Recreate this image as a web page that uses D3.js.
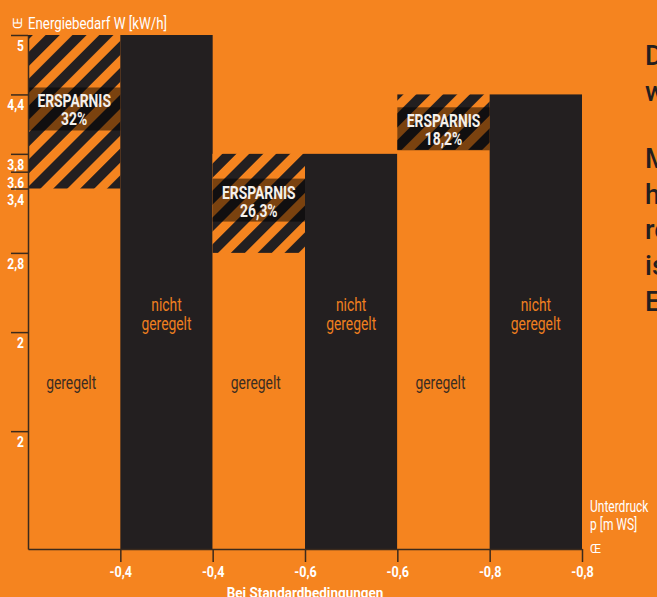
<!DOCTYPE html>
<html lang="de">
<head>
<meta charset="UTF-8">
<title>Energiebedarf</title>
<script src="https://d3js.org/d3.v7.min.js"></script>
<style>
  body { margin: 0; background: #f5841f; }
  svg { display: block; }
  text { font-family: Roboto, "Liberation Sans", sans-serif; }
</style>
</head>
<body>
<svg id="chart" width="657" height="597"></svg>
<script>
// Werte
var pressure = ["-0,4", "-0,6", "-0,8"];
var ungeregelt = [5, 3.8, 4.4];        // nicht geregelt
var geregelt = [3.45, 2.8, 3.84];      // geregelt (unteres Ende der Schraffur)
var ersparnis = ["32%", "26,3%", "18,2%"];
var labelTop = [4.47, 3.55, 4.27];     // Oberkante des Ersparnis-Kastens
var yTickValues = [5, 4.4, 3.8, 3.62, 3.45, 2.8, 2, 1];
var yTickLabels = ["5", "4,4", "3,8", "3,6", "3,4", "2,8", "2", "2"];
var xTickLabels = ["-0,4", "-0,4", "-0,6", "-0,6", "-0,8", "-0,8"];
var sideText = [["Die", "wird"], ["Mit", "hoher", "reduziert", "ist", "Energie"]];

var ORANGE = "#f5841f", DARK = "#231f20", AXIS = "#3b2a1c";

var svg = d3.select("#chart");
svg.append("rect").attr("width", 657).attr("height", 597).attr("fill", ORANGE);

// schmale Schrift nachbilden
function label(x, y, txt, size, sx, opts) {
  opts = opts || {};
  return svg.append("text")
    .attr("transform", "translate(" + x + "," + y + ") scale(" + sx + ",1)")
    .attr("text-anchor", opts.anchor || "start")
    .attr("fill", opts.fill || "#fff")
    .attr("font-size", size)
    .attr("font-weight", opts.bold ? "bold" : null)
    .text(txt);
}

var x = d3.scaleBand().domain(d3.range(6)).range([28, 582]).padding(0);
var xEdge = d3.scaleLinear().domain([0, 6]).range([28, 582]);
var y = d3.scaleLinear().domain([-0.19, 5]).range([549, 35]);
var y0 = y.domain()[0];

// Schraffur
var defs = svg.append("defs");
var pat = defs.append("pattern")
  .attr("id", "stripes")
  .attr("patternUnits", "userSpaceOnUse")
  .attr("width", 19).attr("height", 19)
  .attr("patternTransform", "rotate(45)");
pat.append("rect").attr("width", 19).attr("height", 19).attr("fill", ORANGE);
pat.append("rect").attr("width", 10).attr("height", 19).attr("fill", DARK);

// Spalten
pressure.forEach(function(p, i) {
  var cr = 2 * i, cn = 2 * i + 1;
  // geregelt
  svg.append("rect")
    .attr("x", x(cr)).attr("y", y(ungeregelt[i]))
    .attr("width", x.bandwidth()).attr("height", y(y0) - y(ungeregelt[i]))
    .attr("fill", ORANGE);
  svg.append("rect")
    .attr("x", x(cr)).attr("y", y(ungeregelt[i]))
    .attr("width", x.bandwidth()).attr("height", y(geregelt[i]) - y(ungeregelt[i]))
    .attr("fill", "url(#stripes)");
  // nicht geregelt
  svg.append("rect")
    .attr("x", x(cn)).attr("y", y(ungeregelt[i]))
    .attr("width", x.bandwidth()).attr("height", y(y0) - y(ungeregelt[i]))
    .attr("fill", DARK);

  // Ersparnis-Kasten
  var bx = x(cr), by = y(labelTop[i]), cx = bx + x.bandwidth() / 2;
  svg.append("rect")
    .attr("x", bx).attr("y", by)
    .attr("width", x.bandwidth()).attr("height", 43)
    .attr("fill", "#000").attr("fill-opacity", 0.5);
  label(cx, by + 20, "ERSPARNIS", 18, 0.77, { anchor: "middle", bold: true, fill: "#f4f0ec" });
  label(cx, by + 38, ersparnis[i], 18, 0.77, { anchor: "middle", bold: true, fill: "#f4f0ec" });

  // Beschriftung
  label(cx - 3, 389, "geregelt", 18, 0.77, { anchor: "middle", fill: "#3a2c22" });
  var cxn = x(cn) + x.bandwidth() / 2;
  label(cxn, 311, "nicht", 18, 0.77, { anchor: "middle", fill: "#f07f1f" });
  label(cxn, 330, "geregelt", 18, 0.77, { anchor: "middle", fill: "#f07f1f" });
});

// Achsen
var gY = svg.append("g")
  .attr("transform", "translate(28,0)")
  .call(d3.axisLeft(y).tickValues(yTickValues)
    .tickFormat(function(d, i) { return yTickLabels[i]; })
    .tickSize(17).tickSizeOuter(0));
gY.attr("font-family", null).attr("font-size", null);
gY.select(".domain").attr("stroke", AXIS).attr("stroke-width", 1.5);
gY.selectAll(".tick line").attr("stroke", AXIS).attr("stroke-width", 1.5);
gY.selectAll(".tick text")
  .attr("x", -5).attr("y", 15.5).attr("dy", null)
  .attr("transform", "scale(0.8,1)")
  .attr("fill", "#fff").attr("font-size", 15).attr("font-weight", "bold");

var gX = svg.append("g")
  .attr("transform", "translate(0,549)")
  .call(d3.axisBottom(xEdge).tickValues([1, 2, 3, 4, 5, 6])
    .tickFormat(function(d, i) { return xTickLabels[i]; })
    .tickSize(13).tickSizeOuter(0));
gX.attr("font-family", null).attr("font-size", null);
gX.select(".domain").attr("stroke", AXIS).attr("stroke-width", 1.5);
gX.selectAll(".tick line").attr("stroke", AXIS).attr("stroke-width", 1.5);
gX.selectAll(".tick text")
  .attr("y", 28).attr("dy", null)
  .attr("transform", "scale(0.9,1)")
  .attr("fill", "#fff").attr("font-size", 14).attr("font-weight", "bold");

// Titel y-Achse
svg.append("text")
  .attr("transform", "translate(18,23) rotate(-90)")
  .attr("text-anchor", "middle").attr("dy", "0.35em")
  .attr("fill", "#fff").attr("font-size", 12).text("Œ");
label(28, 29, "Energiebedarf W [kW/h]", 16, 0.83);

// x-Achse
label(590, 512, "Unterdruck", 16, 0.75);
label(590, 530, "p [m WS]", 16, 0.75);
label(590, 553, "Œ", 12, 1);
label(305, 598, "Bei Standardbedingungen", 15, 0.9, { anchor: "middle", bold: true });

// Seitentext (abgeschnitten)
var lineY = [[65, 101], [168, 204, 239, 275, 311]];
sideText.forEach(function(par, pi) {
  par.forEach(function(w, wi) {
    svg.append("text").attr("x", 645).attr("y", lineY[pi][wi])
      .attr("fill", DARK).attr("font-size", 27).attr("font-weight", 500)
      .text(w);
  });
});
</script>
</body>
</html>
